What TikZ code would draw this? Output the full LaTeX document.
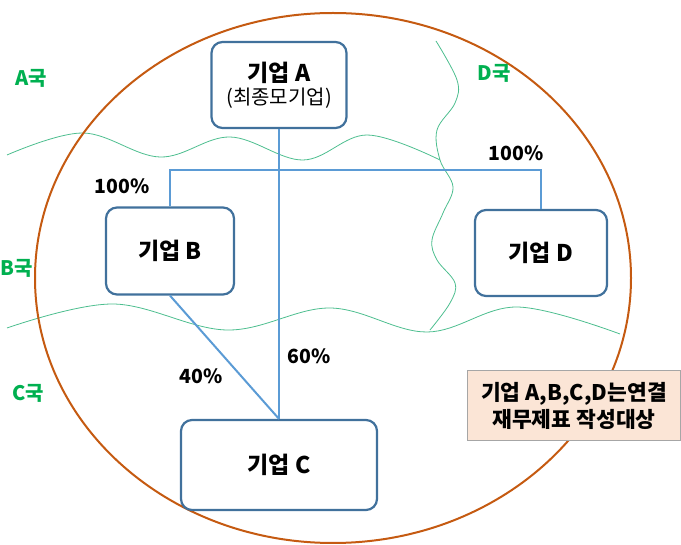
\documentclass[tikz,border=0pt]{standalone}
\usepackage{fontspec}
\usetikzlibrary{shapes.geometric}
\setmainfont{Noto Sans CJK KR}
\definecolor{boxline}{HTML}{41719C}
\definecolor{conn}{HTML}{5B9BD5}
\definecolor{orng}{HTML}{C55A11}
\definecolor{wave}{HTML}{4DBE8F}
\definecolor{cgreen}{HTML}{00B050}
\definecolor{notefill}{HTML}{FBE5D6}
\definecolor{notegray}{HTML}{A6A6A6}
\tikzset{
  firm/.style={draw=boxline, line width=2.2pt, fill=white, rounded corners=11pt, align=center, font=\fontsize{23}{26}\selectfont\bfseries, inner sep=0pt},
  conline/.style={draw=conn, line width=2pt},
  pct/.style={font=\fontsize{19.5}{22}\selectfont\bfseries, inner sep=0pt},
  ctry/.style={text=cgreen, font=\fontsize{20}{22}\selectfont\bfseries, inner sep=0pt},
  border/.style={draw=wave, line width=0.8pt},
  note/.style={draw=notegray, line width=1pt, fill=notefill, align=center, font=\fontsize{21.5}{27}\selectfont\bfseries, inner sep=0pt}
}
\begin{document}
\begin{tikzpicture}[x=1pt,y=-1pt]
\useasboundingbox (0,0) rectangle (681,545);
% borders
\draw[border] plot[smooth, tension=0.6] coordinates {(7,155) (83,133) (160,157) (230,137) (303,160) (367,135) (440,160)};
\draw[border] plot[smooth, tension=0.6] coordinates {(7,328) (113,304) (227,330) (330,308) (427,332) (517,307) (620,334)};
\draw[border] plot[smooth, tension=0.6] coordinates {(436,41) (457,80) (455,103) (437,130) (440,160) (453,187) (443,213) (432,240) (437,260) (455,283) (450,303) (430,330)};
% consolidation circle
\node[draw=orng, line width=2pt, ellipse, minimum width=596pt, minimum height=530pt, inner sep=0pt] (circ) at (333,278) {};
% firms
\node[firm, minimum width=135pt, minimum height=86pt] (A) at (279,85) {기업 A\\[-3pt]{\fontsize{20}{22}\selectfont\mdseries (최종모기업)}};
\node[firm, minimum width=128pt, minimum height=87pt] (B) at (170,251) {기업 B};
\node[firm, minimum width=132pt, minimum height=86pt] (D) at (541,253) {기업 D};
\node[firm, minimum width=196pt, minimum height=90pt] (C) at (279,465) {기업 C};
% connectors
\coordinate (h) at (279,170);
\draw[conline] (A.south) -- (C.north);
\draw[conline] (B.north) -- (B.north |- h) -- (D.north |- h) -- (D.north);
\draw[conline] (B.south) -- (C.north);
% percentages
\node[pct] (p1) at (122,186) {100\%};
\node[pct] (p2) at (516,153) {100\%};
\node[pct] (p3) at (201,376) {40\%};
\node[pct] (p4) at (309,356) {60\%};
% countries
\node[ctry] (ca) at (31,78) {A국};
\node[ctry] (cd) at (494,73) {D국};
\node[ctry] (cb) at (17,268) {B국};
\node[ctry] (cc) at (28,393) {C국};
% note
\node[note, minimum width=213pt, minimum height=70pt] (n) at (574,406) {기업 A,B,C,D는연결\\재무제표 작성대상};
\end{tikzpicture}
\end{document}
